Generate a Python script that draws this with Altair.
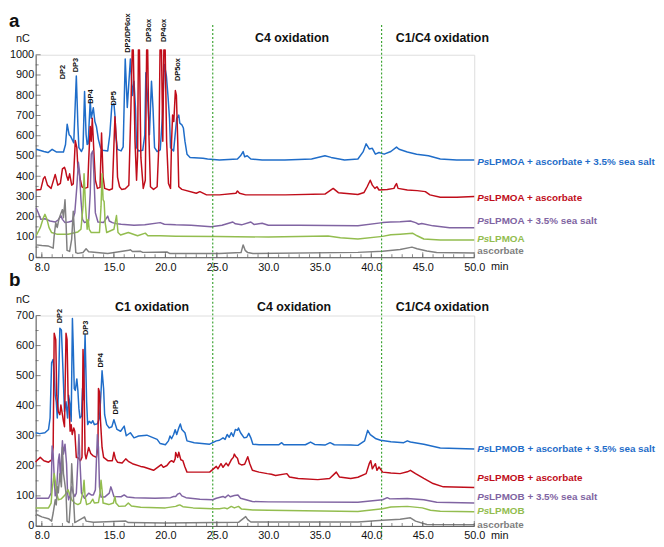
import altair as alt
import pandas as pd

FONT = "Liberation Sans"
SERIES = ["blue", "red", "purple", "green", "gray"]
COLORS = ["#1f6dc9", "#c00d1a", "#8064a2", "#93bd4f", "#808080"]

# ---------------- panel a traces (time [min], signal [nC]) ----------------
a_blue = [(7.45,533),(8.2,522),(8.6,517),(9.0,533),(9.4,520),(10.1,520),(10.3,557),(10.46,657),(10.65,605),(10.8,597),
          (10.95,581),(11.1,565),(11.35,895),(11.5,654),(11.6,541),(11.85,522),(12.0,540),(12.15,818),(12.3,605),(12.4,557),
          (12.5,560),(12.7,775),(12.8,686),(13.0,738),(13.15,670),(13.3,646),(13.5,581),(13.7,541),(13.9,528),(14.4,525),
          (14.6,605),(14.8,750),(15.0,759),(15.1,702),(15.2,589),(15.35,533),(15.7,525),(15.9,545),(16.1,979),(16.3,740),
          (16.6,979),(16.8,799),(16.95,869),(17.1,734),(17.2,541),(17.4,525),(17.8,528),(18.0,605),(18.1,911),(18.3,766),
          (18.45,605),(18.65,869),(18.8,734),(18.95,541),(19.2,522),(19.5,530),(19.7,686),(19.9,952),(20.1,895),(20.25,799),
          (20.4,686),(20.5,541),(20.8,525),(21.1,686),(21.3,702),(21.4,662),(21.6,654),(21.75,638),(21.9,573),(22.1,509),
          (22.4,493),(23.65,489),(24.1,485),(25.25,480),(27.0,485),(27.3,501),(27.55,522),(27.7,496),(27.95,501),(28.3,485),
          (29.4,480),(31.6,480),(34.2,485),(35.5,501),(36.1,493),(37.4,480),(38.7,485),(39.2,520),(39.5,560),(39.8,535),
          (40.1,538),(40.4,509),(40.75,517),(41.25,509),(41.9,522),(42.45,544),(42.7,533),(43.5,520),(44.4,509),(45.55,501),
          (46.7,485),(48.3,480),(50.0,480)]
a_red = [(7.45,332),(7.9,335),(8.15,388),(8.3,398),(8.55,356),(8.9,340),(9.3,409),(9.55,356),(9.8,365),(10.0,436),
         (10.2,444),(10.3,430),(10.4,404),(10.55,380),(10.7,412),(10.9,356),(11.05,362),(11.25,576),(11.4,541),(11.5,444),
         (11.6,428),(11.75,380),(11.9,348),(12.15,340),(12.45,345),(12.55,477),(12.7,646),(12.8,573),(12.9,686),(13.05,525),
         (13.2,380),(13.4,340),(13.65,345),(13.8,614),(13.95,396),(14.1,340),(14.55,332),(14.85,338),(15.1,694),(15.25,573),
         (15.35,396),(15.55,348),(15.75,335),(16.1,338),(16.45,356),(16.65,734),(16.78,1024),(16.88,1024),(17.05,573),(17.2,380),
         (17.3,500),(17.38,1024),(17.48,1024),(17.62,493),(17.85,340),(18.05,380),(18.18,1024),(18.28,1024),(18.4,605),(18.55,348),
         (18.85,335),(19.2,348),(19.38,573),(19.48,1024),(19.62,1024),(19.75,573),(19.85,1024),(19.98,1024),(20.12,573),(20.3,364),
         (20.5,340),(20.6,573),(20.7,702),(20.82,670),(20.97,823),(21.07,799),(21.2,573),(21.3,348),(21.6,335),(23.0,316),
         (23.35,324),(24.0,308),(25.25,308),(26.85,316),(27.0,327),(27.2,316),(27.8,308),(31.65,308),(35.5,312),(36.3,340),
         (36.8,319),(38.7,310),(39.3,320),(39.6,348),(39.9,380),(40.1,356),(40.35,340),(40.55,348),(40.75,332),(41.55,335),
         (42.2,340),(42.35,356),(42.45,364),(42.6,340),(43.5,332),(44.45,329),(45.25,324),(45.7,308),(46.7,296),(48.3,296),
         (50.0,300)]
a_purple = [(7.45,243),(7.65,220),(7.9,187),(8.3,190),(8.8,179),(9.3,174),(9.6,185),(9.85,206),(10.0,187),(10.25,171),
            (10.6,174),(10.95,179),(11.2,219),(11.4,348),(11.55,469),(11.65,428),(11.8,284),(11.95,187),(12.15,171),(12.55,180),
            (12.7,316),(12.8,509),(12.95,525),(13.05,412),(13.2,219),(13.45,174),(14.0,172),(14.4,203),(14.55,179),(14.85,171),
            (15.2,166),(15.7,163),(16.95,158),(18.0,160),(19.5,171),(19.9,163),(21.0,160),(22.5,158),(24.45,151),(25.5,158),
            (26.55,174),(26.8,165),(27.4,160),(28.3,174),(28.6,162),(29.4,168),(30.0,158),(33.0,158),(38.7,155),(41.1,171),
            (41.9,174),(42.8,175),(43.8,179),(44.3,171),(44.6,163),(44.9,167),(46.0,155),(47.6,146),(50.0,146)]
a_green = [(7.45,106),(7.85,146),(8.15,195),(8.3,212),(8.5,187),(8.7,146),(8.95,122),(9.45,114),(10.55,114),(11.5,125),
           (11.8,138),(12.0,251),(12.1,412),(12.25,251),(12.4,138),(12.5,187),(12.6,138),(12.8,122),(13.6,122),(13.75,251),
           (13.85,412),(13.95,284),(14.05,275),(14.15,171),(14.3,122),(15.0,138),(15.25,206),(15.4,122),(15.65,110),(16.4,122),
           (17.3,106),(18.05,119),(18.3,106),(19.5,106),(21.0,104),(25.0,102),(30.0,100),(35.8,105),(37.0,96),(38.7,90),
           (41.1,103),(41.9,111),(42.8,114),(44.0,119),(44.45,106),(45.1,90),(46.7,85),(50.0,85)]
a_gray = [(7.45,61),(8.0,58),(8.6,56),(9.1,45),(9.2,106),(9.35,171),(9.5,147),(9.65,187),(9.85,216),(10.0,235),
          (10.1,195),(10.25,284),(10.35,171),(10.45,34),(10.7,29),(10.9,90),(11.05,227),(11.15,138),(11.3,23),(11.5,19),
          (12.0,23),(12.3,42),(12.55,27),(14.4,18),(16.45,34),(16.6,37),(16.8,28),(17.6,29),(17.8,24),(20.15,26),
          (20.45,18),(25.25,18),(27.35,23),(27.55,61),(27.75,34),(28.0,23),(28.5,18),(38.7,24),(41.1,30),(42.8,38),
          (43.95,50),(44.45,42),(45.4,31),(46.35,23),(50.0,21)]

# ---------------- panel b traces ----------------
b_blue = [(7.4,310),(7.8,307),(8.3,310),(8.65,321),(8.8,359),(8.95,543),(9.1,554),(9.2,511),(9.3,435),(9.4,413),
          (9.5,359),(9.6,435),(9.75,658),(9.9,652),(10.05,522),(10.2,380),(10.35,413),(10.5,359),(10.6,435),(10.75,400),
          (10.85,348),(10.97,690),(11.05,598),(11.15,457),(11.25,451),(11.4,489),(11.5,451),(11.6,391),(11.7,359),(11.85,365),
          (11.95,457),(12.05,420),(12.2,636),(12.35,413),(12.45,337),(12.6,348),(12.8,342),(12.95,350),(13.1,337),(13.4,340),
          (13.6,359),(13.75,446),(13.85,516),(14.0,457),(14.1,370),(14.3,337),(14.55,326),(14.8,330),(15.0,353),(15.15,337),
          (15.3,321),(15.65,315),(16.0,332),(16.2,300),(16.6,310),(16.95,293),(17.4,299),(18.2,302),(19.2,288),(19.5,274),
          (20.0,270),(20.3,283),(20.45,299),(20.6,290),(20.8,304),(20.95,320),(21.1,304),(21.3,326),(21.45,339),(21.6,321),
          (21.9,310),(22.1,283),(22.8,277),(24.3,272),(24.95,283),(25.25,285),(25.6,293),(25.8,288),(26.0,304),(26.2,295),
          (26.4,310),(26.6,298),(26.8,321),(27.0,318),(27.1,326),(27.3,310),(27.65,293),(27.9,295),(28.1,308),(28.3,293),
          (28.5,272),(29.1,270),(31.0,270),(31.3,277),(31.5,270),(33.6,270),(34.1,279),(34.5,271),(35.5,269),(36.0,277),
          (36.4,270),(38.0,269),(38.7,268),(39.35,283),(39.65,318),(39.9,304),(40.1,299),(40.4,291),(40.9,285),(41.9,280),
          (43.15,277),(43.5,283),(43.8,279),(45.1,272),(46.7,259),(50.0,256)]
b_red = [(7.4,212),(7.5,217),(7.85,228),(8.2,217),(8.65,212),(8.95,220),(9.1,261),(9.2,641),(9.35,620),(9.45,435),
         (9.6,380),(9.75,370),(9.85,402),(10.0,370),(10.1,348),(10.2,330),(10.35,641),(10.45,620),(10.55,435),(10.65,391),
         (10.75,315),(10.85,337),(10.95,304),(11.1,326),(11.2,315),(11.35,228),(11.5,228),(11.75,217),(11.9,228),(12.0,587),
         (12.1,478),(12.2,239),(12.3,223),(12.55,261),(12.75,241),(12.95,234),(13.3,228),(13.45,260),(13.5,457),(13.6,446),
         (13.7,348),(13.85,261),(14.0,228),(14.4,217),(14.85,217),(15.0,245),(15.15,223),(15.35,212),(15.8,209),(16.15,223),
         (16.4,215),(16.8,207),(17.6,198),(17.9,196),(18.85,185),(19.6,204),(19.8,195),(20.15,201),(20.4,212),(20.6,217),
         (20.8,212),(20.95,223),(21.0,244),(21.2,228),(21.3,245),(21.5,220),(21.7,217),(21.9,196),(22.1,179),(24.3,179),
         (24.95,198),(25.1,190),(25.4,207),(25.6,195),(25.9,209),(26.1,200),(26.4,220),(26.6,228),(26.7,239),(26.85,230),
         (27.0,225),(27.15,207),(27.4,203),(27.7,205),(28.0,230),(28.2,207),(28.45,185),(29.1,179),(29.9,174),(30.3,172),
         (30.7,168),(31.8,174),(32.05,163),(32.9,158),(34.8,154),(35.95,158),(36.45,174),(36.6,179),(36.9,163),(38.0,158),
         (38.7,162),(39.5,174),(39.8,207),(39.95,217),(40.1,190),(40.4,207),(40.55,185),(40.75,196),(41.1,179),(41.9,176),
         (42.8,174),(43.5,180),(43.8,185),(44.3,174),(45.1,158),(46.0,141),(47.0,130),(50.0,128)]
b_purple = [(7.4,92),(8.65,92),(8.9,109),(9.0,266),(9.1,240),(9.2,163),(9.3,100),(9.45,130),(9.6,217),(9.7,239),
            (9.8,163),(9.9,217),(10.0,283),(10.1,239),(10.25,272),(10.4,207),(10.5,109),(10.6,87),(10.75,105),(10.9,130),
            (11.05,109),(11.2,98),(11.35,109),(11.5,217),(11.6,304),(11.7,217),(11.85,109),(12.15,92),(12.55,109),(12.8,103),
            (13.0,103),(13.2,120),(13.3,217),(13.4,304),(13.5,261),(13.6,130),(13.75,96),(14.1,96),(14.55,109),(14.7,130),
            (14.85,115),(15.0,98),(15.7,97),(16.0,103),(16.3,96),(17.0,94),(19.0,92),(20.5,94),(20.8,98),(21.0,98),
            (21.2,106),(21.4,109),(21.6,100),(22.0,94),(23.35,89),(24.6,87),(24.95,92),(25.6,98),(25.8,94),(26.1,103),
            (26.3,97),(26.7,101),(27.05,103),(27.3,92),(28.45,81),(30.0,80),(38.7,79),(41.1,87),(41.55,94),(41.8,90),
            (43.5,91),(45.1,87),(46.35,79),(50.0,76)]
b_green = [(7.4,60),(8.65,60),(8.9,76),(9.0,120),(9.2,174),(9.3,150),(9.45,109),(9.6,87),(9.9,90),(10.25,103),
           (10.55,120),(10.7,105),(10.9,87),(11.2,76),(11.5,71),(11.75,76),(12.0,114),(12.1,152),(12.2,98),(12.35,71),
           (12.7,76),(12.95,89),(13.1,76),(13.5,78),(13.65,109),(13.75,152),(13.85,120),(13.95,76),(14.5,71),(14.95,76),
           (15.1,98),(15.2,76),(15.5,65),(16.1,66),(16.4,76),(16.7,66),(17.6,62),(20.0,60),(21.0,65),(21.2,68),
           (21.4,70),(21.7,64),(22.7,60),(24.6,57),(25.25,57),(25.75,60),(26.0,57),(26.4,65),(26.7,60),(27.1,65),
           (27.4,56),(28.5,53),(30.0,52),(38.7,48),(41.1,57),(41.9,63),(43.5,65),(44.95,60),(45.75,52),(46.7,49),
           (50.0,47)]
b_gray = [(7.4,33),(7.5,38),(8.0,30),(8.65,24),(8.95,16),(9.1,43),(9.3,87),(9.4,70),(9.5,130),(9.6,110),
          (9.75,174),(9.9,130),(10.0,261),(10.1,174),(10.2,150),(10.35,109),(10.45,16),(10.65,11),(10.8,87),(10.9,207),
          (11.05,109),(11.2,11),(12.0,27),(12.15,30),(12.3,16),(13.0,12),(16.15,16),(16.4,11),(20.0,10),(27.1,12),
          (27.8,31),(28.0,21),(28.3,13),(38.7,13),(41.1,19),(42.8,22),(43.8,27),(44.3,16),(45.4,5),(50.0,4)]

# ---------------- annotations ----------------
x_tick_labels = [8, 15, 20, 25, 30, 35, 40, 45, 50]
x_minor = list(range(8, 51))
divider_x = [24.6, 41.0]

a_peak_names = ["DP2", "DP3", "DP4", "DP5", "DP2/DP6ox", "DP3ox", "DP4ox", "DP5ox"]
a_peak_x = [10.1, 11.36, 12.73, 14.97, 16.34, 18.45, 19.84, 21.18]
a_peak_y = [879, 913, 758, 749, 1010, 1063, 1063, 870]
b_peak_names = ["DP2", "DP3", "DP4", "DP5"]
b_peak_x = [9.75, 12.3, 13.75, 15.2]
b_peak_y = [674, 635, 527, 371]

a_regions = ["C4 oxidation", "C1/C4 oxidation"]
a_region_x = [32.3, 46.9]
b_regions = ["C1 oxidation", "C4 oxidation", "C1/C4 oxidation"]
b_region_x = [18.7, 32.5, 46.9]

a_label_rest = ["LPMOA + ascorbate + 3.5% sea salt", "LPMOA + ascorbate", "LPMOA + 3.5% sea salt", "LPMOA", "ascorbate"]
b_label_rest = ["LPMOB + ascorbate + 3.5% sea salt", "LPMOB + ascorbate", "LPMOB + 3.5% sea salt", "LPMOB", "ascorbate"]
label_ps = [True, True, True, True, False]
a_label_y = [469, 290, 179, 92, 29]
b_label_y = [257, 159, 97, 48, 3]

W = 444
HA, HB, GAP = 205, 213, 59
cscale = alt.Scale(domain=SERIES, range=COLORS)


def trace_df(traces):
    rows = []
    for name, pts in zip(SERIES, traces):
        for i, (x, y) in enumerate(pts):
            rows.append({"series": name, "x": x, "y": y, "i": i})
    return pd.DataFrame(rows)


def panel(traces, ymax, height, letter, peaks, regions, labels, region_dy, nc_dy, letter_dy, rule_y1, rule_y2):
    xs = alt.Scale(domain=[7.4, 50], nice=False, zero=False)
    ys = alt.Scale(domain=[0, ymax], nice=False, zero=False)
    xaxis = alt.Axis(values=x_tick_labels, format=".1f", ticks=False, tickSize=0, grid=False, title=None,
                     labelPadding=4, labelFontSize=11, labelColor="#111", labelFont=FONT,
                     domainColor="#555", labelFlush=False, labelOverlap=False)
    yaxis = alt.Axis(values=list(range(0, ymax + 1, 100)), format="d", ticks=False, tickSize=0, grid=False,
                     title=None, labelPadding=2, labelFontSize=11, labelColor="#111", labelFont=FONT,
                     domainColor="#555", labelFlush=False, labelOverlap=False)

    def X(f="x"):
        return alt.X(f"{f}:Q", scale=xs, axis=xaxis)

    def Y(f="y"):
        return alt.Y(f"{f}:Q", scale=ys, axis=yaxis)

    df = trace_df(traces)
    lines = alt.Chart(df).mark_line(strokeWidth=1.5, strokeJoin="round").encode(
        x=X(), y=Y(),
        color=alt.Color("series:N", scale=cscale, legend=None),
        order="i:Q",
    )
    ymaj = alt.Chart(pd.DataFrame({"y": list(range(0, ymax + 1, 100))})).mark_tick(
        orient="horizontal", size=5, thickness=1, color="#555").encode(y=Y(), x=alt.value(2.5))
    ymin = alt.Chart(pd.DataFrame({"y": list(range(50, ymax, 100))})).mark_tick(
        orient="horizontal", size=3, thickness=1, color="#555").encode(y=Y(), x=alt.value(1.5))
    xmaj = alt.Chart(pd.DataFrame({"x": x_tick_labels})).mark_tick(
        orient="vertical", size=5, thickness=1, color="#555").encode(x=X(), y=alt.value(height - 2.5))
    xmin = alt.Chart(pd.DataFrame({"x": x_minor})).mark_tick(
        orient="vertical", size=3, thickness=1, color="#555").encode(x=X(), y=alt.value(height - 1.5))
    rules = alt.Chart(pd.DataFrame({"x": divider_x})).mark_rule(
        strokeDash=[2, 2], strokeWidth=1.2, color="#3ea535").encode(
        x=X(), y=alt.value(rule_y1), y2=alt.value(rule_y2))
    pnames, px, py = peaks
    peak_txt = alt.Chart(pd.DataFrame({"t": pnames, "x": px, "y": py})).mark_text(
        angle=270, align="left", baseline="middle", fontSize=7.5, fontWeight="bold",
        color="#111", font=FONT).encode(x=X(), y=Y(), text="t:N")
    rnames, rx = regions
    reg_txt = alt.Chart(pd.DataFrame({"t": rnames, "x": rx})).mark_text(
        align="center", baseline="middle", fontSize=12.5, fontWeight="bold", color="#111", font=FONT).encode(
        x=X(), y=alt.value(region_dy), text="t:N")
    rest, ly = labels
    ldf = pd.DataFrame({"series": SERIES, "rest": rest, "ps": label_ps, "y": ly,
                        "x": [pts[-1][0] for pts in traces]})
    ps_txt = alt.Chart(ldf).transform_filter("datum.ps").mark_text(
        align="left", baseline="middle", dx=3, fontSize=10, fontWeight="bold", fontStyle="italic",
        font=FONT).encode(
        x=X(), y=Y(), text=alt.value("Ps"), color=alt.Color("series:N", scale=cscale, legend=None))
    rest_ps = alt.Chart(ldf).transform_filter("datum.ps").mark_text(
        align="left", baseline="middle", dx=15, fontSize=10, fontWeight="bold", font=FONT).encode(
        x=X(), y=Y(), text="rest:N", color=alt.Color("series:N", scale=cscale, legend=None))
    rest_plain = alt.Chart(ldf).transform_filter("!datum.ps").mark_text(
        align="left", baseline="middle", dx=3, fontSize=10, fontWeight="bold", font=FONT).encode(
        x=X(), y=Y(), text="rest:N", color=alt.Color("series:N", scale=cscale, legend=None))
    one = pd.DataFrame({"k": [0]})
    letter_txt = alt.Chart(one).mark_text(align="left", baseline="alphabetic", fontSize=19,
                                          fontWeight="bold", color="#111", font=FONT).encode(
        x=alt.value(-27), y=alt.value(letter_dy), text=alt.value(letter))
    nc_txt = alt.Chart(one).mark_text(align="center", baseline="middle", fontSize=11,
                                      color="#111", font=FONT).encode(
        x=alt.value(-13), y=alt.value(nc_dy), text=alt.value("nC"))
    min_txt = alt.Chart(one).mark_text(align="left", baseline="top", fontSize=11,
                                       color="#111", font=FONT).encode(
        x=alt.value(W + 17), y=alt.value(height + 4), text=alt.value("min"))
    return alt.layer(lines, rules, ymaj, ymin, xmaj, xmin, peak_txt, reg_txt, ps_txt, rest_ps,
                     rest_plain, letter_txt, nc_txt, min_txt).properties(width=W, height=height)


pa = panel([a_blue, a_red, a_purple, a_green, a_gray], 1000, HA, "a",
           (a_peak_names, a_peak_x, a_peak_y), (a_regions, a_region_x), (a_label_rest, a_label_y),
           -17, -16, -28, -30, HA + GAP + HB + 14)
pb = panel([b_blue, b_red, b_purple, b_green, b_gray], 700, HB, "b",
           (b_peak_names, b_peak_x, b_peak_y), (b_regions, b_region_x), (b_label_rest, b_label_y),
           -9, -16, -30, 0, 0)

chart = alt.vconcat(pa, pb, spacing=GAP, bounds="flush").properties(padding=0).configure_view(
    strokeWidth=0).configure(font=FONT)

chart.save("out.html", embed_options={"renderer": "svg", "actions": False})
